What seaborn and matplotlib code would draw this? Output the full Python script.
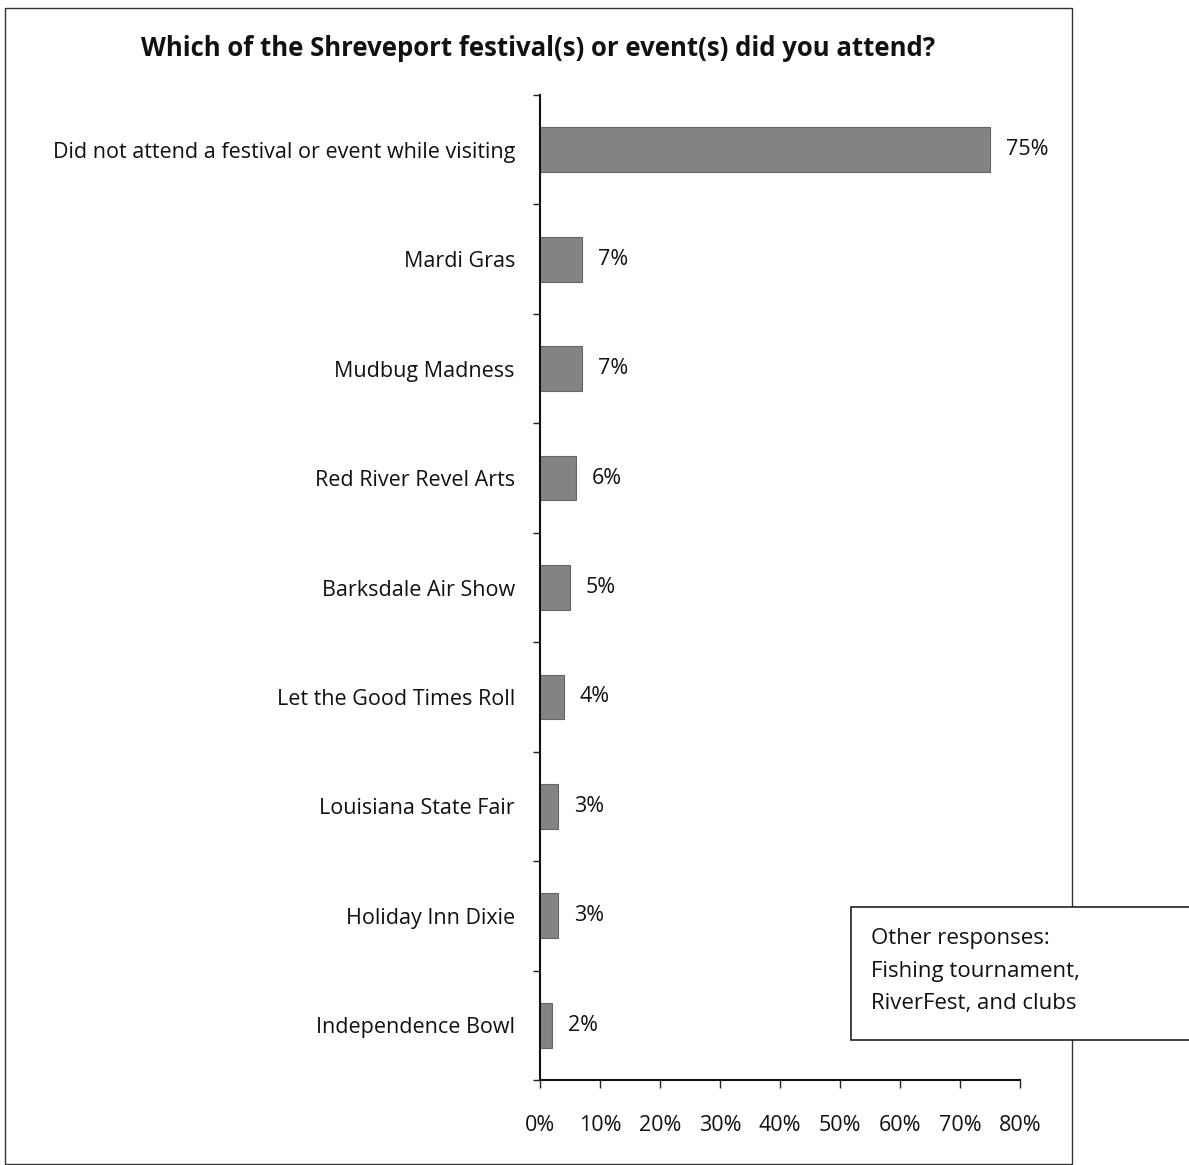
import matplotlib
matplotlib.use("Agg")
import matplotlib.pyplot as plt
import seaborn as sns
import pandas as pd
from matplotlib.patches import Rectangle
from matplotlib.ticker import FuncFormatter

categories = ["Did not attend a festival or event while visiting", "Mardi Gras",
              "Mudbug Madness", "Red River Revel Arts", "Barksdale Air Show",
              "Let the Good Times Roll", "Louisiana State Fair", "Holiday Inn Dixie",
              "Independence Bowl"]
values = [75, 7, 7, 6, 5, 4, 3, 3, 2]
xticks = [0, 10, 20, 30, 40, 50, 60, 70, 80]

sns.set_theme(style="white")
plt.rcParams['font.family'] = ['Open Sans', 'DejaVu Sans']

df = pd.DataFrame({"event": categories, "pct": values})

W, H = 1189, 1165
fig = plt.figure(figsize=(W / 100, H / 100), dpi=100)
ax = fig.add_axes([540 / W, 1 - 1080 / H, 480 / W, 985 / H])

sns.barplot(data=df, y="event", x="pct", orient="h", color="#838383",
            width=0.41, edgecolor="#666666", linewidth=0.8, saturation=1, ax=ax)

ax.set_xlim(0, 80)
ax.set_ylim(len(categories) - 0.5, -0.5)
ax.set_xticks(xticks)
ax.xaxis.set_major_formatter(FuncFormatter(lambda v, p: f"{v:.0f}%"))
ax.set_yticks([i - 0.5 for i in range(len(categories) + 1)], minor=False)
ax.set_yticklabels([])
ax.set_yticks(range(len(categories)), minor=True)
ax.set_yticklabels(categories, minor=True)
ax.tick_params(axis="y", which="minor", length=0, pad=18, labelsize=15.5, labelcolor="#111111")
ax.tick_params(axis="y", which="major", length=5, width=1, color="#222222", direction="out", left=True)
ax.tick_params(axis="x", length=6, width=1, color="#222222", direction="out", bottom=True,
               pad=19, labelsize=15.5, labelcolor="#111111")
ax.set_xlabel("")
ax.set_ylabel("")
for s in ["top", "right"]:
    ax.spines[s].set_visible(False)
for s in ["left", "bottom"]:
    ax.spines[s].set_color("#111111")
    ax.spines[s].set_linewidth(1.5)

for i, v in enumerate(values):
    ax.text(v + 2.6, i, f"{v}%", va="center", ha="left", fontsize=15.5, color="#111111")

# outer frame
fig.patches.append(Rectangle((5 / W, 1 - 1164 / H), 1067 / W, 1156 / H, transform=fig.transFigure,
                             fill=False, edgecolor="#333333", linewidth=1.0))

fig.text(538 / W, 1 - 48 / H, "Which of the Shreveport festival(s) or event(s) did you attend?",
         ha="center", va="center", fontsize=18.5, fontweight="bold", color="#111111")

# annotation box
fig.patches.append(Rectangle((851 / W, 1 - 1040 / H), 345 / W, 133 / H, transform=fig.transFigure,
                             facecolor="white", edgecolor="#222222", linewidth=1.2, zorder=5))
fig.text(871 / W, 1 - 971 / H, "Other responses:\nFishing tournament,\nRiverFest, and clubs",
         ha="left", va="center", fontsize=16, linespacing=1.72, color="#111111", zorder=6)

fig.savefig("out.png", dpi=100, facecolor="white")
